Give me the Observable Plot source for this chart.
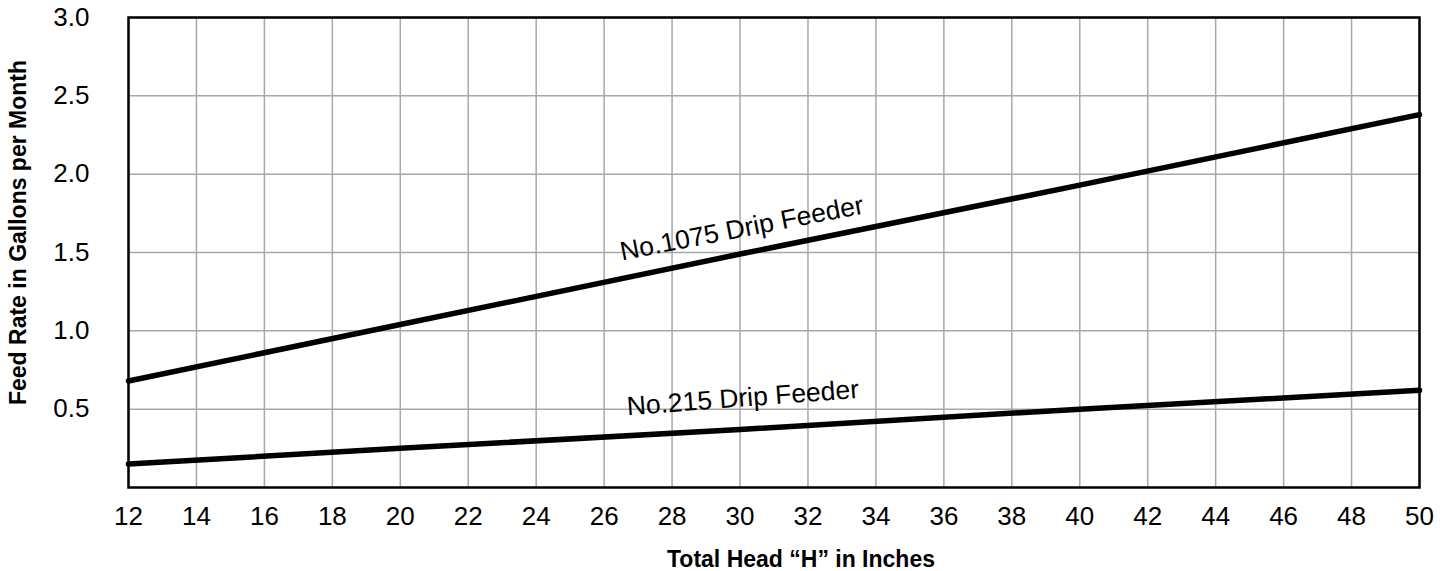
<!DOCTYPE html>
<html>
<head>
<meta charset="utf-8">
<script src="https://cdn.jsdelivr.net/npm/d3@7"></script>
<script src="https://cdn.jsdelivr.net/npm/@observablehq/plot@0.6"></script>
<style>
  html, body { margin: 0; padding: 0; background: #fff; }
  #chart { width: 1447px; height: 571px; }
</style>
</head>
<body>
<div id="chart"></div>
<script>
// Data
const head = [12, 20, 30, 40, 50];                 // Total Head "H" in inches
const feeder1075 = [0.68, 1.04, 1.49, 1.93, 2.38]; // gallons per month
const feeder215 = [0.15, 0.25, 0.37, 0.50, 0.62];  // gallons per month
const xTicks = [12, 14, 16, 18, 20, 22, 24, 26, 28, 30, 32, 34, 36, 38, 40, 42, 44, 46, 48, 50];
const yTicks = [0.5, 1.0, 1.5, 2.0, 2.5, 3.0];
const seriesNames = ["No.1075 Drip Feeder", "No.215 Drip Feeder"];
const labelX = [30.1, 30.1];
const labelY = [1.60, 0.517];
const labelAngle = [-11, -4.3];

const rows = [];
head.forEach((h, i) => {
  rows.push({series: seriesNames[0], h, rate: feeder1075[i]});
  rows.push({series: seriesNames[1], h, rate: feeder215[i]});
});
const labels = seriesNames.map((name, i) => ({name, x: labelX[i], y: labelY[i], angle: labelAngle[i]}));

const font = "'Liberation Sans', Arial, Helvetica, sans-serif";

const chart = Plot.plot({
  width: 1447,
  height: 571,
  marginLeft: 128,
  marginRight: 28,
  marginTop: 17,
  marginBottom: 84,
  style: {background: "#fff", color: "#000", fontFamily: font},
  x: {domain: [12, 50], ticks: xTicks},
  y: {domain: [0, 3], ticks: yTicks},
  marks: [
    Plot.gridX(xTicks, {stroke: "#a8a8a8", strokeOpacity: 1, strokeWidth: 1.5}),
    Plot.gridY(yTicks, {stroke: "#a8a8a8", strokeOpacity: 1, strokeWidth: 1.5}),
    Plot.axisX(xTicks, {tickSize: 0, tickPadding: 19, fontSize: 26, label: null}),
    Plot.axisY(yTicks, {tickSize: 0, tickPadding: 39, fontSize: 26, label: null, tickFormat: d3.format(".1f")}),
    Plot.line(rows, {x: "h", y: "rate", z: "series", stroke: "#000", strokeWidth: 5.5}),
    Plot.text(labels, {x: "x", y: "y", text: "name", rotate: "angle", fontSize: 26.5, lineAnchor: "bottom", textAnchor: "middle", fill: "#000"}),
    Plot.frame({stroke: "#000", strokeWidth: 2.5}),
    Plot.text(["Total Head \u201CH\u201D in Inches"], {frameAnchor: "bottom", textAnchor: "middle", dx: 27, dy: 79, lineAnchor: "bottom", fontSize: 23, fontWeight: "bold", fill: "#000"}),
    Plot.text(["Feed Rate in Gallons per Month"], {frameAnchor: "left", textAnchor: "middle", dx: -110, dy: -20, rotate: -90, lineAnchor: "middle", fontSize: 23, fontWeight: "bold", fill: "#000"})
  ]
});
document.getElementById("chart").appendChild(chart);
</script>
</body>
</html>
